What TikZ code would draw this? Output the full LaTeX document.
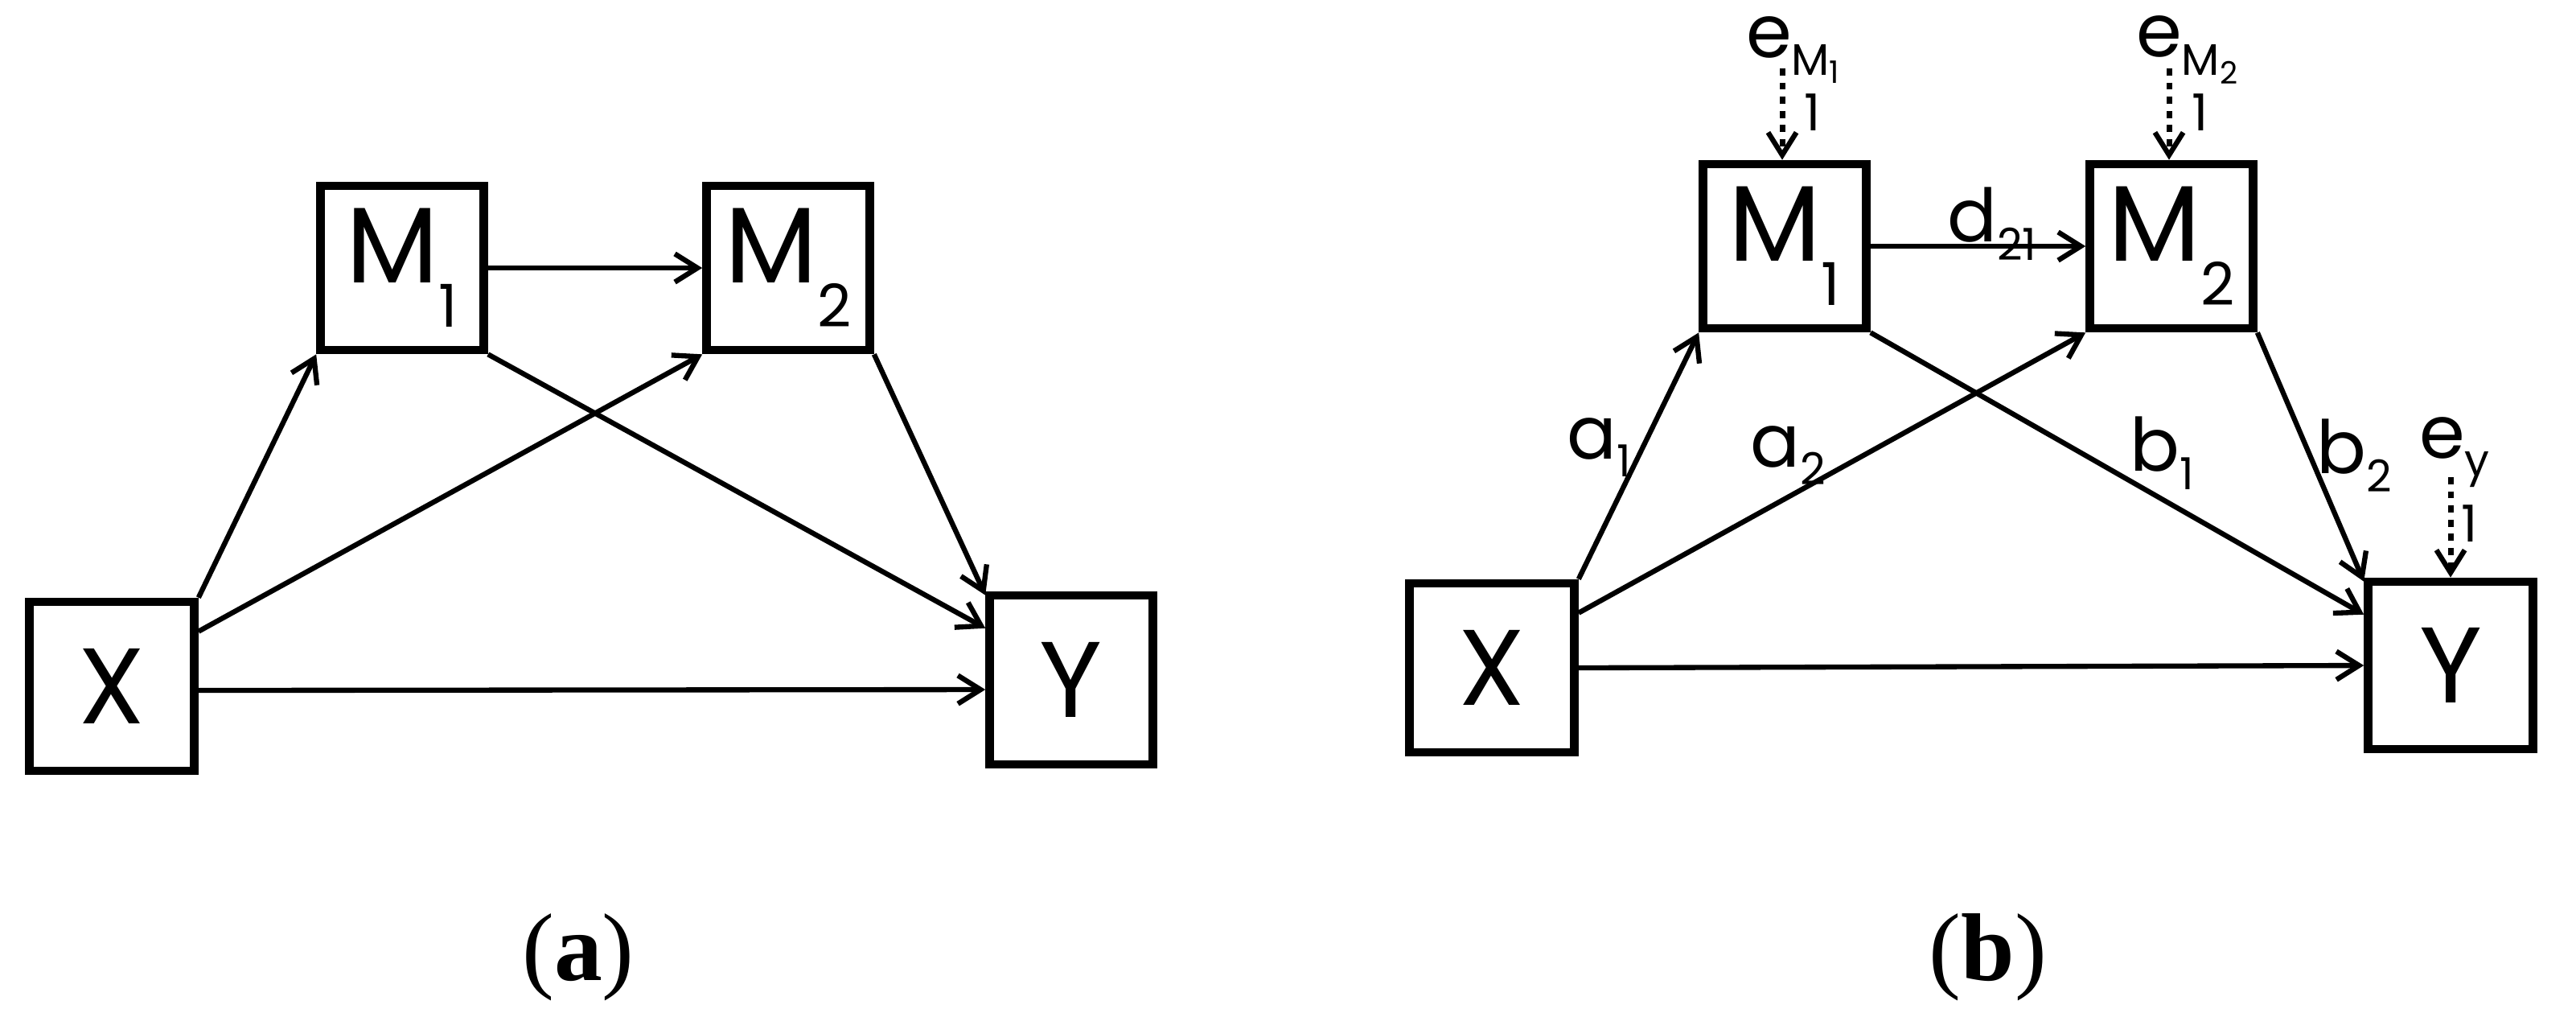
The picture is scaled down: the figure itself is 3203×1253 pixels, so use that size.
\documentclass[tikz,border=0pt]{standalone}
\usepackage{fontspec}
\setmainfont{Poppins}
\newfontfamily\capfont{Liberation Serif}
\usetikzlibrary{arrows.meta}
\newcommand{\lowsub}[1]{\raisebox{-0.75ex}{\fontsize{0.55em}{0.6em}\selectfont #1}}
\newcommand{\lsub}[1]{\raisebox{-0.45ex}{\fontsize{0.6em}{0.6em}\selectfont #1}}
\begin{document}
\begin{tikzpicture}[x=0.01cm,y=-0.01cm,
  bx/.style={draw,line width=3pt,inner sep=0pt,font=\fontsize{38}{44}\selectfont},
  ed/.style={line width=1.8pt,-{Straight Barb[length=8pt,width=10pt,line width=1.8pt]}},
  er/.style={ed,dash pattern=on 2.5pt off 2.5pt,line width=2pt},
  lb/.style={font=\fontsize{26}{30}\selectfont,inner sep=0pt},
  sm/.style={font=\fontsize{18}{22}\selectfont,inner sep=0pt}]
\useasboundingbox (0,0) rectangle (3203,1253);
% panel a
\node[bx,minimum width=2.05cm,minimum height=2.1cm] (X) at (139,853) {X};
\node[bx,minimum width=2.03cm,minimum height=2.04cm] (M1) at (500,333) {M\lowsub{1}};
\node[bx,minimum width=2.03cm,minimum height=2.04cm] (M2) at (980,333) {M\lowsub{2}};
\node[bx,minimum width=2.03cm,minimum height=2.1cm] (Y) at (1332,845) {Y};
\draw[ed] (M1.east) -- (M2.west);
\draw[ed] (X.north east) -- (M1.south west);
\draw[ed] ([yshift=-0.42cm]X.north east) -- (M2.south west);
\draw[ed] (M1.south east) -- ([yshift=-0.46cm]Y.north west);
\draw[ed] (M2.south east) -- ([yshift=-0.05cm]Y.north west);
\draw[ed] ([yshift=-0.05cm]X.east) -- ([yshift=-0.12cm]Y.west);
\node[font=\capfont\fontsize{34}{40}\selectfont] (ca) at (719,1190) {(\textbf{a})};
% panel b
\node[bx,minimum width=2.05cm,minimum height=2.1cm] (X2) at (1855,830) {X};
\node[bx,minimum width=2.03cm,minimum height=2.04cm] (N1) at (2219,306) {M\lowsub{1}};
\node[bx,minimum width=2.03cm,minimum height=2.04cm] (N2) at (2700,306) {M\lowsub{2}};
\node[bx,minimum width=2.05cm,minimum height=2.08cm] (Y2) at (3047,827) {Y};
\draw[ed] (N1.east) -- (N2.west);
\draw[ed] (X2.north east) -- (N1.south west);
\draw[ed] ([yshift=-0.42cm]X2.north east) -- (N2.south west);
\draw[ed] (N1.south east) -- ([yshift=-0.46cm]Y2.north west);
\draw[ed] (N2.south east) -- ([yshift=-0.05cm]Y2.north west);
\draw[ed] (X2.east) -- (Y2.west);
\node[lb] (la1) at (1988,556) {a\lsub{1}};
\node[lb] (la2) at (2223,566) {a\lsub{2}};
\node[lb] (lb1) at (2688,563) {b\lsub{1}};
\node[lb] (lb2) at (2927,566) {b\lsub{2}};
\node[lb] (ld) at (2477,278) {d\lsub{21}};
\node[lb] (e1) at (2230,62) {e\lsub{M\textsubscript{1}}};
\node[lb] (e2) at (2720,62) {e\lsub{M\textsubscript{2}}};
\node[lb] (ey) at (3052,562) {e\lsub{y}};
\node[sm] (o1) at (2254,140) {1};
\node[sm] (o2) at (2736,140) {1};
\node[sm] (o3) at (3071,651) {1};
\coordinate (s1) at (2216,85);
\coordinate (s2) at (2697,85);
\coordinate (s3) at (3047,593);
\draw[er] (s1) -- (s1 |- N1.north);
\draw[er] (s2) -- (s2 |- N2.north);
\draw[er] (s3) -- (s3 |- Y2.north);
\node[font=\capfont\fontsize{34}{40}\selectfont] (cb) at (2472,1190) {(\textbf{b})};
\end{tikzpicture}
\end{document}
